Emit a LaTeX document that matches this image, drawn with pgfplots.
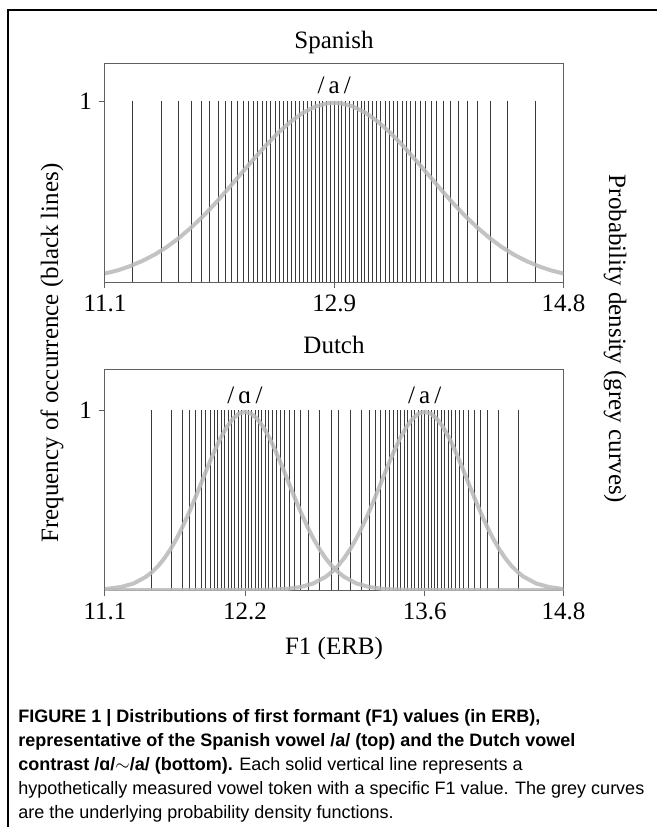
\documentclass[border=0pt]{standalone}
\usepackage{fontspec}
\setmainfont{Liberation Serif}
\newfontfamily\capfont{Liberation Sans}
\usepackage{pgfplots}
\pgfplotsset{compat=1.18}

\definecolor{tokline}{HTML}{3A3A3A}
\definecolor{pdfcurve}{HTML}{B8B8B8}
\definecolor{boxline}{HTML}{606060}

\newcommand{\chartfont}{\fontsize{12.5}{15}\selectfont}

\pgfplotsset{
  panel/.style={
    scale only axis,
    width=229.25pt,
    xmin=11.1, xmax=14.8,
    ymin=0,
    axis line style={boxline, line width=0.5pt},
    tick style={boxline, line width=0.5pt},
    tick align=outside,
    major tick length=3pt,
    xtick pos=lower, ytick pos=left,
    ytick={1}, yticklabels={1},
    ticklabel style={font=\chartfont},
    /pgf/number format/assume math mode=true,
  },
  tokens/.style={ycomb, no marks, tokline, line width=0.5pt},
  density/.style={no marks, pdfcurve, line width=2pt, opacity=0.85, line join=round},
}

\begin{document}
\begin{tikzpicture}[x=1pt,y=1pt]
\path[use as bounding box] (0,0) rectangle (328.5,413.5);
\draw[line width=1pt] (4,0) -- (4,408.5) -- (330,408.5);

% Spanish
\begin{axis}[panel, at={(52.5pt,272.5pt)}, anchor=south west, height=109.5pt, ymax=1.21,
  xtick={11.1,12.95,14.8}, xticklabels={11.1,12.9,14.8}]
\addplot[tokens] coordinates {
(11.325,1) (11.554,1) (11.692,1) (11.795,1) (11.878,1) (11.945,1) (12.012,1) (12.069,1)
(12.123,1) (12.170,1) (12.216,1) (12.257,1) (12.296,1) (12.331,1) (12.367,1) (12.402,1)
(12.437,1) (12.472,1) (12.506,1) (12.540,1) (12.573,1) (12.605,1) (12.638,1) (12.670,1)
(12.702,1) (12.734,1) (12.765,1) (12.796,1) (12.827,1) (12.858,1) (12.889,1) (12.920,1)
(12.950,1)
(12.981,1) (13.011,1) (13.042,1) (13.073,1) (13.104,1) (13.135,1) (13.167,1) (13.198,1)
(13.230,1) (13.262,1) (13.295,1) (13.327,1) (13.360,1) (13.394,1) (13.428,1) (13.463,1)
(13.498,1) (13.533,1) (13.569,1) (13.604,1) (13.643,1) (13.685,1) (13.731,1) (13.777,1)
(13.831,1) (13.888,1) (13.955,1) (14.022,1) (14.105,1) (14.208,1) (14.346,1) (14.575,1)
};
\addplot[density] coordinates {
(11.1,0.047) (11.2,0.064) (11.3,0.087) (11.4,0.116) (11.5,0.151) (11.6,0.194)
(11.7,0.245) (11.8,0.304) (11.9,0.369) (12.0,0.442) (12.1,0.520) (12.2,0.600)
(12.3,0.679) (12.4,0.756) (12.5,0.826) (12.6,0.887) (12.7,0.936) (12.8,0.970)
(12.9,0.988) (12.95,0.990) (13.0,0.988) (13.1,0.970) (13.2,0.936) (13.3,0.887)
(13.4,0.826) (13.5,0.756) (13.6,0.679) (13.7,0.600) (13.8,0.520) (13.9,0.442)
(14.0,0.369) (14.1,0.304) (14.2,0.245) (14.3,0.194) (14.4,0.151) (14.5,0.116)
(14.6,0.087) (14.7,0.064) (14.8,0.047)
};
\node[font=\chartfont] at (axis cs:12.95,1.088) {/\,a\,/};
\end{axis}

% Dutch
\begin{axis}[panel, at={(52.5pt,118.5pt)}, anchor=south west, height=110.5pt, ymax=1.228,
  xtick={11.1,12.23,13.68,14.8}, xticklabels={11.1,12.2,13.6,14.8}]
\addplot[tokens] coordinates {
(11.475,1) (11.633,1) (11.722,1) (11.782,1) (11.831,1) (11.875,1) (11.913,1) (11.948,1)
(11.980,1) (12.010,1) (12.038,1) (12.067,1) (12.095,1) (12.123,1) (12.149,1) (12.176,1)
(12.203,1) (12.230,1) (12.257,1) (12.284,1) (12.311,1) (12.337,1) (12.365,1) (12.393,1)
(12.422,1) (12.450,1) (12.480,1) (12.513,1) (12.547,1) (12.585,1) (12.630,1) (12.678,1)
(12.739,1) (12.827,1) (12.985,1)
(12.925,1) (13.083,1) (13.172,1) (13.232,1) (13.281,1) (13.325,1) (13.363,1) (13.398,1)
(13.430,1) (13.460,1) (13.488,1) (13.517,1) (13.545,1) (13.573,1) (13.599,1) (13.626,1)
(13.653,1) (13.680,1) (13.707,1) (13.734,1) (13.761,1) (13.787,1) (13.815,1) (13.843,1)
(13.872,1) (13.900,1) (13.930,1) (13.963,1) (13.997,1) (14.035,1) (14.080,1) (14.128,1)
(14.189,1) (14.277,1) (14.435,1)
};
\addplot[density] coordinates {
(11.10,0.005) (11.23,0.017) (11.33,0.036) (11.43,0.073) (11.48,0.100) (11.53,0.134)
(11.58,0.177) (11.63,0.228) (11.68,0.288) (11.73,0.357) (11.78,0.433) (11.83,0.515)
(11.88,0.600) (11.93,0.686) (11.98,0.767) (12.03,0.841) (12.08,0.903) (12.13,0.950)
(12.18,0.980) (12.23,0.990) (12.28,0.980) (12.33,0.950) (12.38,0.903) (12.43,0.841)
(12.48,0.767) (12.53,0.686) (12.58,0.600) (12.63,0.515) (12.68,0.433) (12.73,0.357)
(12.78,0.288) (12.83,0.228) (12.88,0.177) (12.93,0.134) (12.98,0.100) (13.03,0.073)
(13.13,0.036) (13.23,0.017) (13.33,0.007) (13.43,0.003) (13.58,0.001) (13.80,0)
(14.80,0)
};
\addplot[density] coordinates {
(11.10,0) (12.00,0) (12.33,0.001) (12.48,0.003) (12.58,0.007) (12.68,0.017)
(12.78,0.036) (12.88,0.073) (12.93,0.100) (12.98,0.134) (13.03,0.177) (13.08,0.228)
(13.13,0.288) (13.18,0.357) (13.23,0.433) (13.28,0.515) (13.33,0.600) (13.38,0.686)
(13.43,0.767) (13.48,0.841) (13.53,0.903) (13.58,0.950) (13.63,0.980) (13.68,0.990)
(13.73,0.980) (13.78,0.950) (13.83,0.903) (13.88,0.841) (13.93,0.767) (13.98,0.686)
(14.03,0.600) (14.08,0.515) (14.13,0.433) (14.18,0.357) (14.23,0.288) (14.28,0.228)
(14.33,0.177) (14.38,0.134) (14.43,0.100) (14.48,0.073) (14.58,0.036) (14.68,0.017)
(14.78,0.007) (14.80,0.006)
};
\node[font=\chartfont] at (axis cs:12.23,1.083) {/\,ɑ\,/};
\node[font=\chartfont] at (axis cs:13.68,1.083) {/\,a\,/};
\end{axis}

% titles and labels
\node[font=\chartfont] at (167,392.5) {Spanish};
\node[font=\chartfont] at (167,241) {Dutch};
\node[font=\chartfont, rotate=90] at (26,237) {Frequency of occurrence (black lines)};
\node[font=\chartfont, rotate=-90] at (307.5,244) {Probability density (grey curves)};
\node[font=\chartfont] at (167,89.5) {F1 (ERB)};

% caption
\node[anchor=north west, inner sep=0pt, align=left,
      font=\capfont\fontsize{9}{12}\selectfont] at (9,59) {%
\textbf{FIGURE 1 | Distributions of first formant (F1) values (in ERB),}\\
\textbf{representative of the Spanish vowel /a/ (top) and the Dutch vowel}\\
\textbf{contrast /ɑ/$\sim$/a/ (bottom).} Each solid vertical line represents a\\
hypothetically measured vowel token with a specific F1 value. The grey curves\\
are the underlying probability density functions.};
\end{tikzpicture}
\end{document}
